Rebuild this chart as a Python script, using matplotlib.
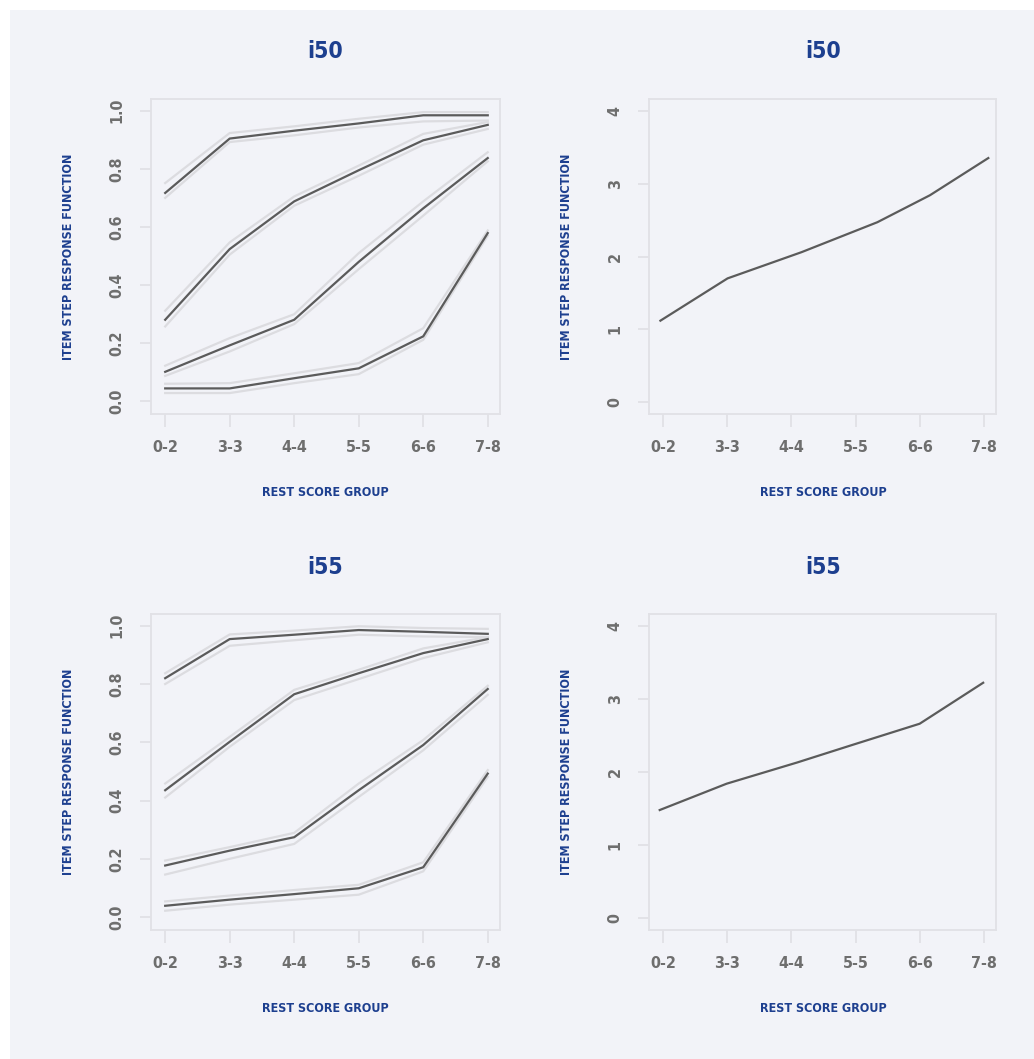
import matplotlib.pyplot as plt
from matplotlib.patches import Rectangle

# rest score groups on the x axis
groups = ['0-2', '3-3', '4-4', '5-5', '6-6', '7-8']
group_pos = [1, 2, 3, 4, 5, 6]

# item i50: item step response functions (estimate, upper, lower) per step
i50_isrf = [
    [0.717, 0.904, 0.931, 0.956, 0.984, 0.984],
    [0.281, 0.524, 0.688, 0.795, 0.898, 0.951],
    [0.102, 0.193, 0.281, 0.480, 0.664, 0.837],
    [0.045, 0.045, 0.080, 0.114, 0.224, 0.579],
]
i50_upper = [
    [0.751, 0.923, 0.946, 0.972, 0.995, 0.995],
    [0.312, 0.547, 0.705, 0.811, 0.920, 0.961],
    [0.123, 0.218, 0.300, 0.510, 0.688, 0.857],
    [0.061, 0.063, 0.097, 0.132, 0.252, 0.588],
]
i50_lower = [
    [0.700, 0.892, 0.915, 0.942, 0.963, 0.966],
    [0.258, 0.505, 0.673, 0.776, 0.883, 0.937],
    [0.088, 0.172, 0.266, 0.455, 0.639, 0.826],
    [0.029, 0.029, 0.063, 0.094, 0.212, 0.570],
]
# item i50: item response function (mean item score)
i50_irf_x = [0.958, 2.005, 3.16, 4.34, 5.16, 6.07]
i50_irf = [1.12, 1.70, 2.06, 2.47, 2.84, 3.35]

# item i55
i55_isrf = [
    [0.820, 0.954, 0.969, 0.985, 0.979, 0.972],
    [0.436, 0.602, 0.765, 0.837, 0.906, 0.954],
    [0.178, 0.229, 0.275, 0.436, 0.591, 0.783],
    [0.040, 0.061, 0.080, 0.100, 0.172, 0.493],
]
i55_upper = [
    [0.837, 0.970, 0.983, 0.998, 0.992, 0.989],
    [0.459, 0.619, 0.780, 0.849, 0.922, 0.961],
    [0.195, 0.241, 0.290, 0.459, 0.608, 0.794],
    [0.055, 0.075, 0.094, 0.112, 0.189, 0.505],
]
i55_lower = [
    [0.800, 0.931, 0.950, 0.969, 0.963, 0.961],
    [0.411, 0.585, 0.745, 0.817, 0.889, 0.943],
    [0.147, 0.201, 0.252, 0.413, 0.573, 0.763],
    [0.023, 0.044, 0.061, 0.078, 0.158, 0.482],
]
i55_irf_x = [0.947, 1.99, 3.09, 3.95, 5.0, 5.99]
i55_irf = [1.48, 1.84, 2.13, 2.37, 2.66, 3.22]

W, H = 1034, 1059
BG = '#f2f3f8'
FRAME = '#e1e1e6'
TICKLAB = '#6e6e6e'
BLUE = '#1d3f8f'
LINE = '#5b5b5b'
BAND = '#dcdce0'
FONT = ['DejaVu Sans']
COND = dict(family=FONT, fontweight='bold', fontstretch='condensed')


def px_axes(fig, left, top, right, bottom):
    return fig.add_axes([left / W, 1 - bottom / H, (right - left) / W, (bottom - top) / H])


def style(ax, ylim, yticks, ylabels):
    ax.set_facecolor(BG)
    ax.set_xlim(0.78, 6.19)
    ax.set_ylim(*ylim)
    for s in ax.spines.values():
        s.set_color(FRAME)
        s.set_linewidth(1.3)
    ax.set_xticks(group_pos)
    ax.set_xticklabels(groups, fontsize=11.5, color=TICKLAB, **COND)
    ax.set_yticks(yticks)
    ax.set_yticklabels(ylabels, rotation=90, va='center', fontsize=11.5,
                       color=TICKLAB, **COND)
    ax.tick_params(axis='x', length=9, width=1.3, color=FRAME, pad=10)
    ax.tick_params(axis='y', length=8, width=1.3, color=FRAME, pad=11)


def main():
    fig = plt.figure(figsize=(W / 100, H / 100), dpi=100, facecolor='white')
    fig.patches.append(Rectangle((10 / W, 0), 1, 1 - 10 / H, transform=fig.transFigure,
                                 facecolor=BG, edgecolor='none', zorder=-10))

    rows = [
        ('i50', i50_isrf, i50_upper, i50_lower, i50_irf_x, i50_irf, 99, 414, 52, 493),
        ('i55', i55_isrf, i55_upper, i55_lower, i55_irf_x, i55_irf, 614, 930, 568, 1008),
    ]
    for name, isrf, up, lo, irf_x, irf, top, bottom, ty, xly in rows:
        # left: item step response functions with bands
        ax1 = px_axes(fig, 151, top, 500, bottom)
        for k in range(len(isrf)):
            ax1.plot(group_pos, up[k], color=BAND, lw=1.6, zorder=2)
            ax1.plot(group_pos, lo[k], color=BAND, lw=1.6, zorder=2)
            ax1.plot(group_pos, isrf[k], color=LINE, lw=1.6, zorder=3)
        style(ax1, (-0.043, 1.04), [0.0, 0.2, 0.4, 0.6, 0.8, 1.0],
              ['0.0', '0.2', '0.4', '0.6', '0.8', '1.0'])

        # right: item response function
        ax2 = px_axes(fig, 649, top, 996, bottom)
        ax2.plot(irf_x, irf, color=LINE, lw=1.6)
        style(ax2, (-0.16, 4.16), [0, 1, 2, 3, 4], ['0', '1', '2', '3', '4'])

        for cx, cyl in [(325, 69), (823, 567)]:
            fig.text(cx / W, 1 - ty / H, name, ha='center', va='center',
                     fontsize=16.5, color=BLUE, **COND)
            fig.text(cx / W, 1 - xly / H, 'REST SCORE GROUP', ha='center', va='center',
                     fontsize=9, color=BLUE, **COND)
            fig.text(cyl / W, 1 - (top + bottom) / 2 / H, 'ITEM STEP RESPONSE FUNCTION',
                     ha='center', va='center', rotation=90,
                     fontsize=9, color=BLUE, **COND)

    fig.savefig('out.png', dpi=100, facecolor='white')


if __name__ == "__main__":
    main()
